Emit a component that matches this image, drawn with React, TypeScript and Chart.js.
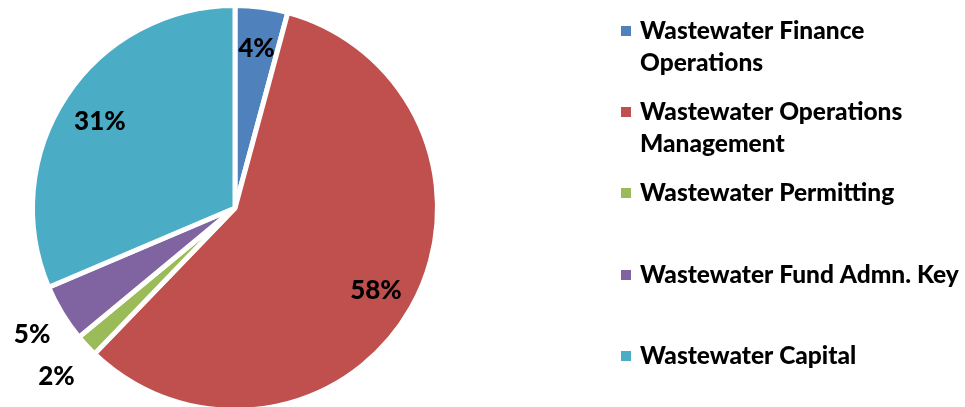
import React, { useEffect, useRef } from "react";
import { Chart, registerables } from "chart.js";
Chart.register(...registerables);

const categories = [
  "Wastewater Finance Operations",
  "Wastewater Operations Management",
  "Wastewater Permitting",
  "Wastewater Fund Admn. Key",
  "Wastewater Capital",
];
const legendLines = [
  ["Wastewater Finance", "Operations"],
  ["Wastewater Operations", "Management"],
  ["Wastewater Permitting"],
  ["Wastewater Fund Admn. Key"],
  ["Wastewater Capital"],
];
const values = [4.2, 58.0, 1.8, 4.6, 31.4];
const colors = ["#4F81BD", "#C0504D", "#9BBB59", "#8064A2", "#4BACC6"];

const FONT = "Lato";
// label placement: negative = inside factor of radius, positive = px outside
const labelOffset = [-0.81, -0.8, 41, 35, -0.8];

const labelPlugin = {
  id: "customLabels",
  afterDraw(chart: any) {
    const ctx = chart.ctx as CanvasRenderingContext2D;
    const meta = chart.getDatasetMeta(0);
    const total = values.reduce((a, b) => a + b, 0);
    ctx.save();
    ctx.fillStyle = "#000";
    ctx.font = `900 26px ${FONT}`;
    ctx.textAlign = "center";
    ctx.textBaseline = "middle";
    meta.data.forEach((arc: any, i: number) => {
      const p = arc.getProps(["x", "y", "startAngle", "endAngle", "outerRadius"], true);
      const mid = (p.startAngle + p.endAngle) / 2;
      const o = labelOffset[i];
      const r = o > 0 ? p.outerRadius + o : p.outerRadius * -o;
      const txt = Math.round((values[i] / total) * 100) + "%";
      ctx.fillText(txt, p.x + Math.cos(mid) * r, p.y + Math.sin(mid) * r + 3);
    });
    // legend
    const centers = [31, 112, 193, 275, 356];
    ctx.textAlign = "left";
    ctx.textBaseline = "alphabetic";
    ctx.font = `900 24.5px ${FONT}`;
    legendLines.forEach((lines, i) => {
      const cy = centers[i];
      ctx.fillStyle = colors[i];
      ctx.fillRect(621, cy - 5, 10, 10);
      ctx.fillStyle = "#000";
      lines.forEach((ln, j) => {
        ctx.fillText(ln, 640, cy + 8 + j * 32);
      });
    });
    ctx.restore();
  },
};

export default function App() {
  const ref = useRef<HTMLCanvasElement>(null);
  useEffect(() => {
    if (!ref.current) return;
    const chart = new Chart(ref.current, {
      type: "pie",
      data: {
        labels: categories,
        datasets: [
          {
            data: values,
            backgroundColor: colors,
            borderColor: "#FFFFFF",
            borderWidth: 5,
          },
        ],
      },
      options: {
        responsive: false,
        animation: false,
        layout: { padding: { left: 30, top: 3, right: 525, bottom: 7 } },
        plugins: {
          legend: { display: false },
          tooltip: { enabled: false },
        },
      },
      plugins: [labelPlugin],
    });
    return () => chart.destroy();
  }, []);
  return (
    <div style={{ position: "absolute", left: 0, top: 0, width: 965, height: 407, overflow: "hidden", background: "#fff" }}>
      <canvas ref={ref} width={965} height={420} style={{ display: "block" }} />
    </div>
  );
}
